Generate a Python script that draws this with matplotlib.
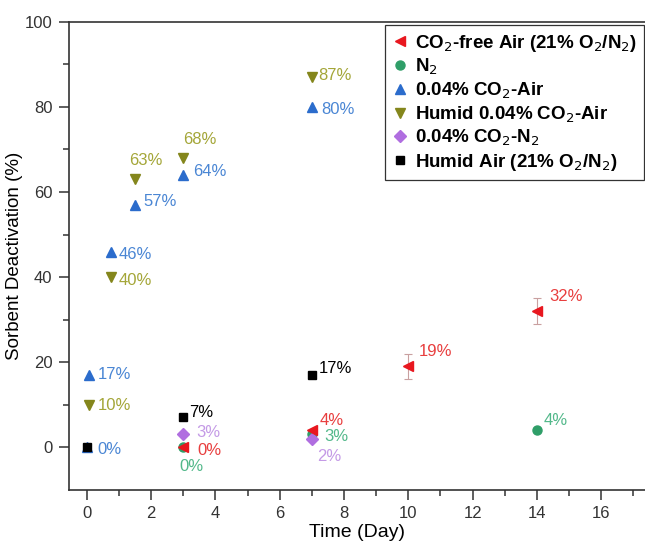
import matplotlib.pyplot as plt
from matplotlib.lines import Line2D
import numpy as np

plt.rcParams['font.family'] = ['Liberation Sans', 'DejaVu Sans']

# data: time (day) and sorbent deactivation (%)
co2free_t = [3, 7, 10, 14]
co2free_y = [0, 4, 19, 32]
co2free_err = [0, 0, 3, 3]

n2_t = [3, 7, 14]
n2_y = [0, 3, 4]

air_t = [0, 0.083, 0.75, 1.5, 3, 7]
air_y = [0, 17, 46, 57, 64, 80]

humid_air_co2_t = [0.083, 0.75, 1.5, 3, 7]
humid_air_co2_y = [10, 40, 63, 68, 87]

co2n2_t = [3, 7]
co2n2_y = [3, 2]

humid_t = [0, 3, 7]
humid_y = [0, 7, 17]

# label offsets in pixels (dx, dy, ha); None = no label
air_off = [(11, -2, 'left'), (8, 0, 'left'), (8, -3, 'left'), (8, 3, 'left'), (10, 3, 'left'), (9, -3, 'left')]
humid_co2_off = [(8, -1, 'left'), (8, -3, 'left'), (11, 19, 'center'), (0, 18, 'left'), (6, 2, 'left')]
co2free_off = [(14, -3, 'left'), (8, 10, 'left'), (10, 15, 'left'), (12, 15, 'left')]
n2_off = [(8, -19, 'center'), (12, -2, 'left'), (7, 10, 'left')]
co2n2_off = [(13, 2, 'left'), (5, -18, 'left')]
humid_off = [None, (6, 5, 'left'), (7, 6, 'left')]

fig = plt.figure(figsize=(6.45, 5.46), dpi=100)
ax = fig.add_axes([0.107, 0.103, 0.893, 0.857])


def annotate(ts, ys, offs, color):
    for t, y, off in zip(ts, ys, offs):
        if off is None:
            continue
        dx, dy, ha = off
        ax.annotate(f'{y}%', (t, y), xytext=(dx, dy), textcoords='offset pixels',
                    ha=ha, va='center', color=color, fontsize=12)


st = {
    'co2free': dict(marker='<', color='#e8171f', ms=7.5),
    'n2': dict(marker='o', color='#2f9e68', ms=6.5),
    'air': dict(marker='^', color='#2b6ccc', ms=7.5),
    'humid_co2': dict(marker='v', color='#84861c', ms=7.5),
    'co2n2': dict(marker='D', color='#b06ee0', ms=6),
    'humid': dict(marker='s', color='black', ms=6),
}

ax.plot(air_t, air_y, ls='none', zorder=3, **st['air'])
ax.plot(humid_air_co2_t, humid_air_co2_y, ls='none', zorder=3, **st['humid_co2'])
ax.plot(n2_t, n2_y, ls='none', zorder=3, **st['n2'])
ax.plot(co2n2_t, co2n2_y, ls='none', zorder=3, **st['co2n2'])
ax.errorbar(co2free_t, co2free_y, yerr=co2free_err, fmt='<', color='#e8171f', ms=7.5,
            ecolor='#c9a0a0', elinewidth=0.8, capsize=3, capthick=0.8, zorder=4)
ax.plot(humid_t, humid_y, ls='none', zorder=5, **st['humid'])

annotate(air_t, air_y, air_off, '#4a86d4')
annotate(humid_air_co2_t, humid_air_co2_y, humid_co2_off, '#a4a638')
annotate(co2free_t, co2free_y, co2free_off, '#e83e3e')
annotate(n2_t, n2_y, n2_off, '#52b88a')
annotate(co2n2_t, co2n2_y, co2n2_off, '#c49ae6')
annotate(humid_t, humid_y, humid_off, 'black')

ax.set_xlim(-0.55, 17.36)
ax.set_ylim(-10, 100)
ax.set_xticks(np.arange(0, 17, 2))
ax.set_xticks(np.arange(0, 18, 1), minor=True)
ax.set_yticks(np.arange(0, 101, 20))
ax.set_yticks(np.arange(0, 101, 10), minor=True)
ax.tick_params(which='major', direction='out', length=7, width=1.1, labelsize=12,
               color='#333333', labelcolor='#333333', pad=5)
ax.tick_params(which='minor', direction='out', length=4, width=1.1, color='#333333')
for s in ax.spines.values():
    s.set_linewidth(1.2)
    s.set_color('#333333')
ax.spines['right'].set_visible(False)

ax.set_xlabel('Time (Day)', fontsize=14, labelpad=2)
ax.set_ylabel('Sorbent Deactivation (%)', fontsize=13.5, labelpad=1)

order = ['co2free', 'n2', 'air', 'humid_co2', 'co2n2', 'humid']
names = ['CO$_2$-free Air (21% O$_2$/N$_2$)', 'N$_2$', '0.04% CO$_2$-Air',
         'Humid 0.04% CO$_2$-Air', '0.04% CO$_2$-N$_2$', 'Humid Air (21% O$_2$/N$_2$)']
handles = [Line2D([], [], ls='none', **st[k]) for k in order]
leg = ax.legend(handles, names, loc='upper right', bbox_to_anchor=(0.9985, 0.993),
                fancybox=False, edgecolor='#333333', framealpha=1, handletextpad=0.4,
                handlelength=0.8, labelspacing=0.18, borderpad=0.4, borderaxespad=0,
                prop={'weight': 'bold', 'size': 13.5})
leg.get_frame().set_linewidth(0.9)

fig.savefig('out.png', dpi=100)
